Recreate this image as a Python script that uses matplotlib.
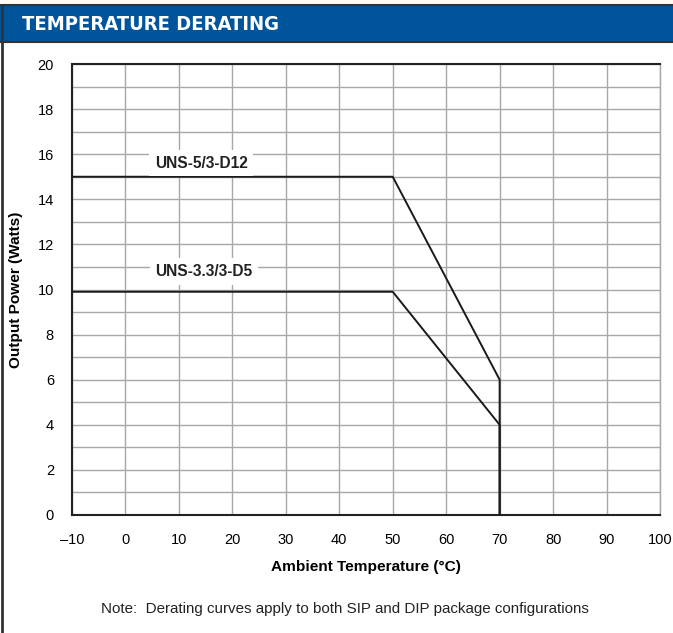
import matplotlib
matplotlib.use("Agg")
import matplotlib.pyplot as plt
from matplotlib.patches import Rectangle
from matplotlib.lines import Line2D

HEADER_BLUE = "#00549b"
GRID_CLR = "#a8a8a8"

plt.rcParams["font.family"] = ["Liberation Sans", "DejaVu Sans"]

# derating curves (ambient temp °C, output power W)
temp_5v = [-10, 50, 70, 70]
power_5v = [15, 15, 6, 0]
temp_33v = [-10, 50, 70, 70]
power_33v = [9.9, 9.9, 4, 0]

x_ticks = list(range(-10, 101, 10))
x_ticklabels = ["\u201310"] + [str(t) for t in x_ticks[1:]]
y_ticks = list(range(0, 21, 2))

fig = plt.figure(figsize=(6.73, 6.33), dpi=100, facecolor="white")

# header bar
fig.patches.append(Rectangle((0, 1 - 42 / 633), 1, 37 / 633, transform=fig.transFigure,
                             facecolor=HEADER_BLUE, edgecolor="none", zorder=0))
for yy in (1 - 5 / 633, 1 - 42 / 633):
    fig.lines.append(Line2D([0, 1], [yy, yy], transform=fig.transFigure,
                            color="#333333", linewidth=1.5))
fig.lines.append(Line2D([1.5 / 673, 1.5 / 673], [0, 1 - 5 / 633], transform=fig.transFigure,
                        color="#333333", linewidth=2))
fig.text(22 / 673, 1 - 24 / 633, "TEMPERATURE DERATING", color="white",
         fontsize=14.5, fontweight="bold", va="center", ha="left",
         family=["DejaVu Sans"], fontstretch="condensed")

ax = fig.add_axes([72 / 673, 1 - 515 / 633, (660 - 72) / 673, (515 - 64) / 633])
ax.set_xlim(-10, 100)
ax.set_ylim(0, 20)

ax.set_xticks(x_ticks)
ax.set_xticklabels(x_ticklabels)
ax.set_yticks(y_ticks)
ax.set_yticks(range(0, 21), minor=True)
ax.tick_params(which="both", length=0, labelsize=10.5, pad=13)
ax.tick_params(axis="y", pad=13)

ax.grid(True, which="major", axis="x", color=GRID_CLR, linewidth=1)
ax.grid(True, which="both", axis="y", color=GRID_CLR, linewidth=1)
ax.set_axisbelow(True)

for side in ("left", "top", "bottom"):
    ax.spines[side].set_color("#222222")
    ax.spines[side].set_linewidth(1.5)
ax.spines["right"].set_color(GRID_CLR)
ax.spines["right"].set_linewidth(1)

ax.plot(temp_5v, power_5v, color="#1a1a1a", linewidth=1.4, zorder=3)
ax.plot(temp_33v, power_33v, color="#1a1a1a", linewidth=1.4, zorder=3)

box = dict(facecolor="white", edgecolor="none", pad=4)
ax.text(14.2, 15.6, "UNS-5/3-D12", ha="center", va="center", fontsize=11.2,
        fontweight="bold", color="#222222", bbox=box, zorder=4)
ax.text(14.7, 10.8, "UNS-3.3/3-D5", ha="center", va="center", fontsize=11.2,
        fontweight="bold", color="#222222", bbox=box, zorder=4)

ax.set_xlabel("Ambient Temperature (\u00b0C)", fontsize=11.1, fontweight="bold", labelpad=9)
ax.set_ylabel("Output Power (Watts)", fontsize=11.1, fontweight="bold")
ax.yaxis.label.set_va("center")
ax.yaxis.set_label_coords(-(72 - 16) / (660 - 72), 0.5)

fig.text(345 / 673, 1 - 609 / 633, "Note:  Derating curves apply to both SIP and DIP package configurations",
         ha="center", va="center", fontsize=10.9, color="#222222")

fig.savefig("out.png", dpi=100, facecolor="white")
